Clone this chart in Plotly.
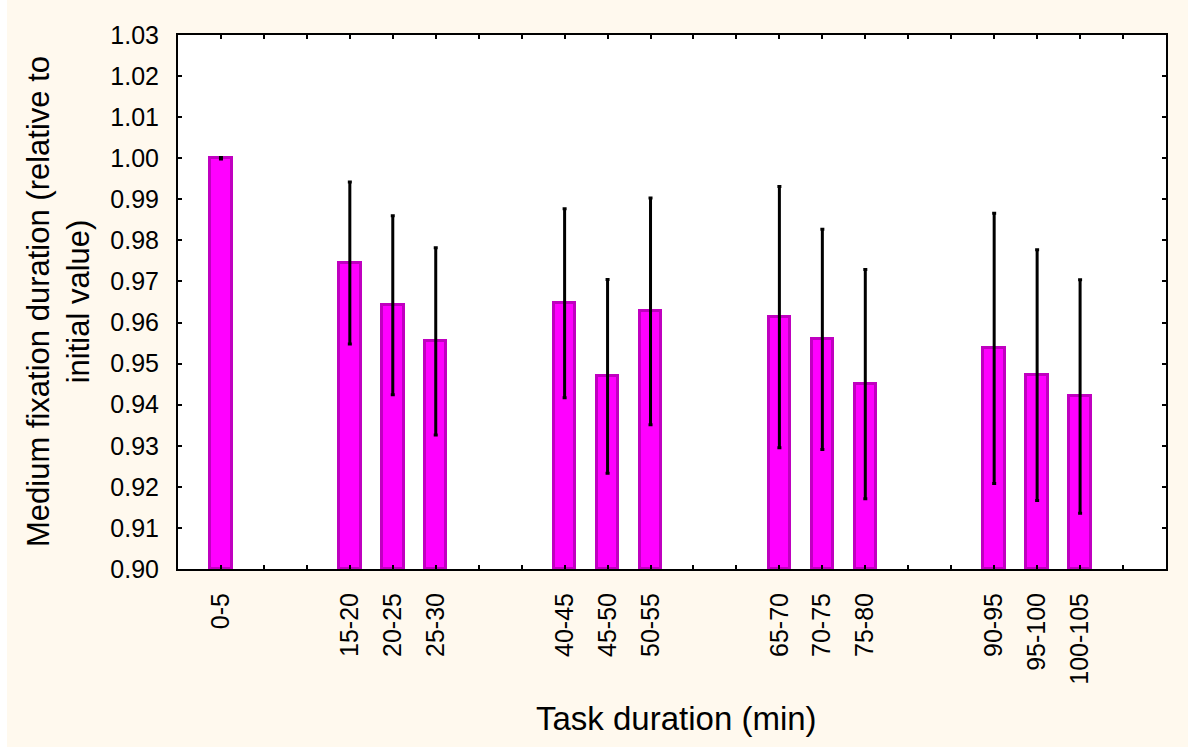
import plotly.graph_objects as go

# Data
categories = ["0-5", "15-20", "20-25", "25-30", "40-45", "45-50", "50-55",
              "65-70", "70-75", "75-80", "90-95", "95-100", "100-105"]
slot_index = [1, 4, 5, 6, 9, 10, 11, 14, 15, 16, 19, 20, 21]
means = [1.000, 0.9745, 0.9642, 0.9554, 0.9647, 0.9469, 0.9627,
         0.9613, 0.9559, 0.9450, 0.9537, 0.9472, 0.9420]
errors = [0.0002, 0.0197, 0.0218, 0.0228, 0.0230, 0.0236, 0.0276,
          0.0318, 0.0268, 0.0279, 0.0329, 0.0305, 0.0284]
y_ticks = [0.90 + 0.01 * i for i in range(14)]

all_slots = list(range(1, 23))
slot_text = []
for s in all_slots:
    slot_text.append(categories[slot_index.index(s)] if s in slot_index else "")

FONT = "Liberation Sans, Arial, sans-serif"
W, H = 1188, 747
ML, MR, MT, MB = 178, 22, 35, 178
PW, PH = W - ML - MR, H - MT - MB

fig = go.Figure()
fig.add_trace(go.Bar(
    x=slot_index, y=[m - 0.90 for m in means], base=0.90,
    width=0.5,
    marker=dict(color="#FF00FF", line=dict(color="#C000C0", width=3)),
    error_y=dict(type="data", array=errors, visible=True,
                 color="black", thickness=3, width=2),
    hoverinfo="skip",
))

fig.update_layout(
    width=W, height=H,
    margin=dict(l=ML, r=MR, t=MT, b=MB),
    paper_bgcolor="#FFF9EE",
    plot_bgcolor="white",
    showlegend=False,
    font=dict(family=FONT, color="black"),
    bargap=0,
)
fig.update_xaxes(
    range=[0, 23], tickmode="array", tickvals=all_slots, ticktext=slot_text,
    tickangle=-90, ticks="inside", ticklen=4, tickwidth=2, tickcolor="black",
    showline=True, linecolor="black", linewidth=2, mirror="ticks",
    showgrid=False, zeroline=False,
    tickfont=dict(family=FONT, size=25, color="black"),
    ticklabelstandoff=12,
)
fig.update_yaxes(
    range=[0.90, 1.03], tickmode="array", tickvals=y_ticks,
    ticktext=[f"{v:.2f}" for v in y_ticks],
    ticks="inside", ticklen=4, tickwidth=2, tickcolor="black",
    showline=True, linecolor="black", linewidth=2, mirror="ticks",
    showgrid=False, zeroline=False,
    tickfont=dict(family=FONT, size=25, color="black"),
    ticklabelstandoff=12,
)

# white strip along left edge of the image
fig.add_shape(type="rect", xref="paper", yref="paper",
              x0=-ML / PW, x1=(-ML + 7) / PW, y0=-MB / PH, y1=1 + MT / PH,
              fillcolor="white", line=dict(width=0), layer="below")

fig.add_annotation(
    text="Medium fixation duration (relative to<br>initial value)",
    xref="paper", yref="paper", x=(58 - ML) / PW, y=0.5,
    xanchor="center", yanchor="middle", textangle=-90, showarrow=False,
    font=dict(family=FONT, size=31, color="black"),
)
fig.add_annotation(
    text="Task duration (min)",
    xref="paper", yref="paper", x=(676 - ML) / PW, y=(569 - 718) / PH,
    xanchor="center", yanchor="middle", showarrow=False,
    font=dict(family=FONT, size=33, color="black"),
)

fig.write_html("out.html")
